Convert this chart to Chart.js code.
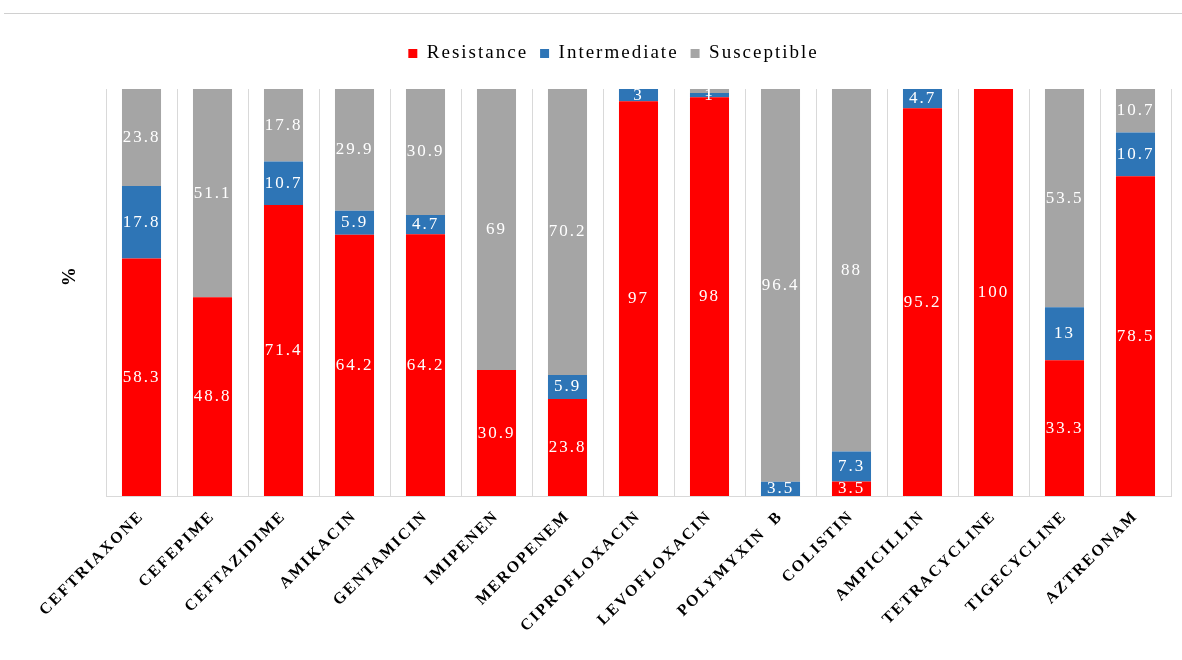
<!DOCTYPE html>
<html lang="en">
  <head>
    <meta charset="UTF-8" />
    <title>Resistance profile</title>
    <script src="https://cdn.jsdelivr.net/npm/chart.js"></script>
    <style>
      body { margin: 0; background: #fff; }
      .wrap { position: relative; width: 1182px; height: 660px; }
      .linha { position: absolute; left: 4px; right: 0; top: 13px; border-top: 1px solid #d0d0d0; }
    </style>
  </head>
  <body>
    <div class="wrap">
      <div class="linha"></div>
      <canvas id="myChart" width="1182" height="660"></canvas>
    </div>
<script>
const antibioticos = ["CEFTRIAXONE", "CEFEPIME", "CEFTAZIDIME", "AMIKACIN", "GENTAMICIN", "IMIPENEN",
  "MEROPENEM", "CIPROFLOXACIN", "LEVOFLOXACIN", "POLYMYXIN  B", "COLISTIN", "AMPICILLIN",
  "TETRACYCLINE", "TIGECYCLINE", "AZTREONAM"];
const resistencia = [58.3, 48.8, 71.4, 64.2, 64.2, 30.9, 23.8, 97, 98, 0, 3.5, 95.2, 100, 33.3, 78.5];
const intermediario = [17.8, 0, 10.7, 5.9, 4.7, 0, 5.9, 3, 1, 3.5, 7.3, 4.7, 0, 13, 10.7];
const sensivel = [23.8, 51.1, 17.8, 29.9, 30.9, 69, 70.2, 0, 1, 96.4, 88, 0, 0, 53.5, 10.7];

// grafico 100% empilhado (como no Excel): altura = parte / total da coluna
const totais = antibioticos.map((_, i) => resistencia[i] + intermediario[i] + sensivel[i]);
const pct = arr => arr.map((v, i) => v / totais[i] * 100);
const series = [
  { nome: "Resistance", valores: resistencia, cor: "#ff0000" },
  { nome: "Intermediate", valores: intermediario, cor: "#2e75b6" },
  { nome: "Susceptible", valores: sensivel, cor: "#a5a5a5" }
];

// texto mais espaçado e legenda um pouco mais para a direita, como na figura original
const espacamento = {
  id: "espacamento",
  afterInit(chart) {
    const fitOriginal = chart.legend.fit;
    chart.legend.fit = function () {
      fitOriginal.call(this);
      this.height += 16;
    };
  },
  afterLayout(chart) {
    chart.legend.left += 28;
    chart.legend.right += 28;
  },
  beforeUpdate(chart) { chart.ctx.letterSpacing = "2px"; },
  beforeDraw(chart) { chart.ctx.letterSpacing = "2px"; }
};

// rótulos brancos no meio de cada pedaço da barra
const rotulos = {
  id: "rotulos",
  afterDatasetsDraw(chart) {
    const ctx = chart.ctx;
    ctx.save();
    ctx.letterSpacing = "2px";
    ctx.fillStyle = "#fff";
    ctx.font = "17px 'Liberation Serif'";
    ctx.textAlign = "center";
    ctx.textBaseline = "middle";
    chart.data.datasets.forEach((ds, i) => {
      chart.getDatasetMeta(i).data.forEach((bar, j) => {
        const v = ds.valores[j];
        if (!v) return;
        ctx.fillText(String(v), bar.x, (bar.y + bar.base) / 2);
      });
    });
    ctx.restore();
  }
};

const ctx = document.getElementById("myChart");
new Chart(ctx, {
  type: "bar",
  data: {
    labels: antibioticos,
    datasets: series.map(s => ({
      label: s.nome,
      data: pct(s.valores),
      valores: s.valores,
      backgroundColor: s.cor
    }))
  },
  options: {
    responsive: false,
    animation: false,
    datasets: { bar: { barPercentage: 0.55, categoryPercentage: 1 } },
    layout: { padding: { top: 32, right: 11, bottom: 0, left: 0 } },
    scales: {
      x: {
        stacked: true,
        grid: { offset: true, color: "#d9d9d9", drawTicks: false },
        border: { color: "#d9d9d9" },
        ticks: {
          color: "#000",
          maxRotation: 45,
          minRotation: 45,
          padding: 11,
          font: { family: "'Liberation Serif'", size: 16, weight: "bold" }
        },
        afterFit: s => { s.height = 164; }
      },
      y: {
        stacked: true,
        min: 0,
        max: 100,
        grid: { display: false },
        border: { display: false },
        ticks: { display: false },
        title: {
          display: true,
          text: "     %",
          color: "#000",
          padding: { top: 59, bottom: 0 },
          font: { family: "'Liberation Serif'", size: 19, weight: "bold" }
        },
        afterFit: s => { s.width = 106; }
      }
    },
    plugins: {
      legend: {
        labels: {
          color: "#000",
          boxWidth: 9,
          boxHeight: 9,
          padding: 12,
          font: { family: "'Liberation Serif'", size: 19 }
        }
      },
      tooltip: { enabled: false }
    }
  },
  plugins: [espacamento, rotulos]
});
</script>
  </body>
</html>
